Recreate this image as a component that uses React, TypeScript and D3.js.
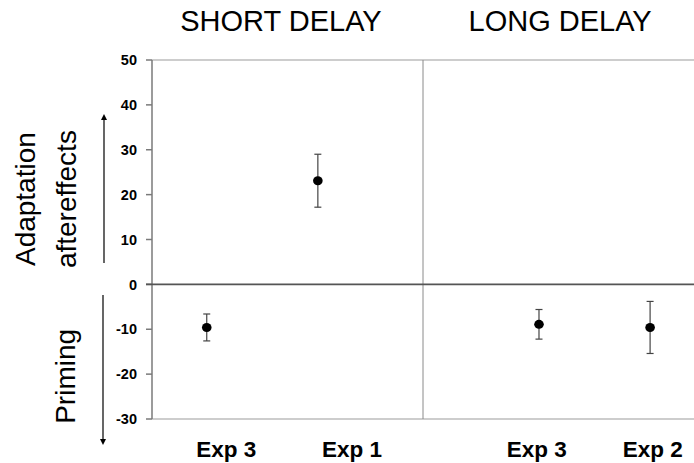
import React from "react";
import * as d3 from "d3";

// Experimental conditions, grouped by delay
const panels = ["SHORT DELAY", "LONG DELAY"];
const categories = ["Exp 3", "Exp 1", "Exp 3", "Exp 2"];
const categoryPanel = [0, 0, 1, 1];
// horizontal placement of each condition along the 0–100 span of the plot
const pointPos = [10.1, 30.6, 71.4, 91.9];
const labelPos = [13.7, 36.9, 71.0, 92.4];
// mean effect and error half-width
const means = [-9.6, 23.1, -8.9, -9.6];
const errors = [3.0, 5.9, 3.3, 5.8];
const yTicks = [50, 40, 30, 20, 10, 0, -10, -20, -30];

const W = 694;
const H = 463;
const left = 152;
const right = 694;
const top = 60;
const bottom = 419;

export default function App() {
  const x = d3.scaleLinear().domain([0, 100]).range([left, right]);
  const y = d3.scaleLinear().domain([-30, 50]).range([bottom, top]);
  const mid = x(50);
  const font = "'Liberation Sans', Arial, Helvetica, sans-serif";
  const cap = 3.5;

  return (
    <svg
      width={W}
      height={H}
      style={{ position: "absolute", left: 0, top: 0, background: "#fff" }}
      fontFamily={font}
    >
      <defs>
        <marker id="arr" viewBox="0 0 6 6" refX="3" refY="3" markerWidth="5" markerHeight="5" orient="auto-start-reverse">
          <path d="M0,0 L6,3 L0,6 z" fill="#000" />
        </marker>
      </defs>

      {/* panel titles */}
      {panels.map((p, i) => (
        <text
          key={p}
          x={i === 0 ? x(23.8) : x(75.3)}
          y={31}
          fontSize={29}
          textAnchor="middle"
          fill="#000"
        >
          {p}
        </text>
      ))}

      {/* frame */}
      <line x1={left} x2={right} y1={top} y2={top} stroke="#bdbdbd" strokeWidth={1.5} />
      <line x1={left} x2={right} y1={bottom} y2={bottom} stroke="#bdbdbd" strokeWidth={1.5} />
      <line x1={mid} x2={mid} y1={top} y2={bottom} stroke="#8a8a8a" strokeWidth={1} />

      {/* y axis */}
      <line x1={left} x2={left} y1={top} y2={bottom} stroke="#7a7a7a" strokeWidth={1.5} />
      {yTicks.map((t) => (
        <g key={t}>
          <line x1={left - 6} x2={left} y1={y(t)} y2={y(t)} stroke="#7a7a7a" strokeWidth={1.5} />
          <text
            x={137}
            y={y(t)}
            dy="0.36em"
            textAnchor="end"
            fontSize={14.5}
            fontWeight="bold"
            fill="#000"
          >
            {t}
          </text>
        </g>
      ))}
      {/* zero line */}
      <line x1={left - 6} x2={right} y1={y(0)} y2={y(0)} stroke="#555" strokeWidth={1.6} />

      {/* y-axis titles with direction arrows */}
      <text transform={`translate(35,${y(19)}) rotate(-90)`} textAnchor="middle" fontSize={28} fill="#000">
        Adaptation
      </text>
      <text transform={`translate(76,${y(19)}) rotate(-90)`} textAnchor="middle" fontSize={28} fill="#000">
        aftereffects
      </text>
      <text transform={`translate(75,${y(-20.5)}) rotate(-90)`} textAnchor="middle" fontSize={28} fill="#000">
        Priming
      </text>
      <line x1={104} x2={104} y1={263} y2={117} stroke="#000" strokeWidth={1.2} markerEnd="url(#arr)" />
      <line x1={103} x2={103} y1={295} y2={442} stroke="#000" strokeWidth={1.2} markerEnd="url(#arr)" />

      {/* error bars and means */}
      {means.map((m, i) => {
        const cx = x(pointPos[i]);
        const hi = y(m + errors[i]);
        const lo = y(m - errors[i]);
        return (
          <g key={i}>
            <line x1={cx} x2={cx} y1={hi} y2={lo} stroke="#444" strokeWidth={1.2} />
            <line x1={cx - cap} x2={cx + cap} y1={hi} y2={hi} stroke="#444" strokeWidth={1.2} />
            <line x1={cx - cap} x2={cx + cap} y1={lo} y2={lo} stroke="#444" strokeWidth={1.2} />
            <ellipse cx={cx} cy={y(m)} rx={4.8} ry={4.5} fill="#000" />
          </g>
        );
      })}

      {/* condition labels */}
      {categories.map((c, i) => (
        <text
          key={i}
          x={x(labelPos[i])}
          y={457}
          textAnchor="middle"
          fontSize={22.5}
          fontWeight="bold"
          fill="#000"
          data-panel={categoryPanel[i]}
        >
          {c}
        </text>
      ))}
    </svg>
  );
}
